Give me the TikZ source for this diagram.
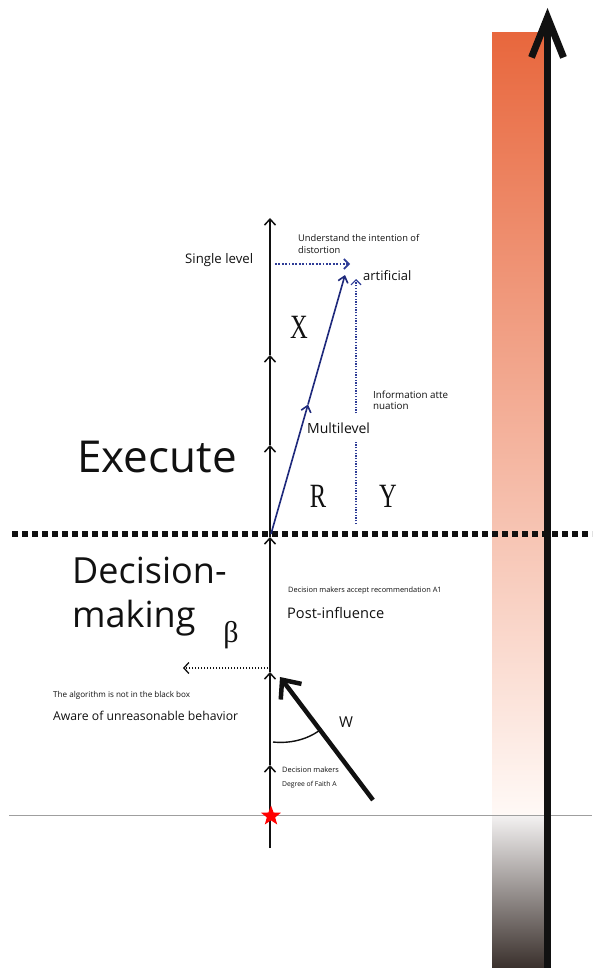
\documentclass[tikz,border=0pt]{standalone}
\usepackage{fontspec}
\setmainfont{Open Sans}
\newfontfamily\serifx{Liberation Serif}
\usetikzlibrary{arrows.meta,shapes.geometric,calc}
\definecolor{navy}{HTML}{1F2A7C}
\definecolor{dotblue}{HTML}{2E3C96}
\definecolor{barTop}{HTML}{E8673D}
\definecolor{barMid}{HTML}{FFF9F6}
\definecolor{barLow}{HTML}{F4F2F2}
\definecolor{barBot}{HTML}{3A302C}
\definecolor{ink}{HTML}{111111}
\tikzset{
  txt/.style={inner sep=0pt, anchor=base west, text=ink},
  fs/.style={font=\fontsize{#1}{#1}\selectfont},
  axisarrow/.style={-{Straight Barb[length=6pt,width=11pt]}, line width=1.5pt, ink},
  bluearrow/.style={-{Straight Barb[length=6pt,width=10pt]}, line width=1.6pt, navy},
  bluedots/.style={-{Straight Barb[length=5pt,width=10pt]}, line width=1.6pt, dotblue, dash pattern=on 1.8pt off 1.6pt},
  letter/.style={inner sep=0pt, text=ink, font=\serifx\fontsize{34}{34}\selectfont}
}
\begin{document}
\begin{tikzpicture}[x=1pt,y=-1pt]
\useasboundingbox (0,0) rectangle (592,968);
\fill[white] (0,0) rectangle (592,968);

% gradient bar
\shade[top color=barTop, bottom color=barMid] (492,33) rectangle (545,815);
\shade[top color=barLow, bottom color=barBot] (492,815) rectangle (545,968);

% horizontal reference line
\coordinate (h0) at (9,815);
\coordinate (h1) at (592,815);
\draw[gray!75, line width=1pt] (h0) -- (h1);

% thick dotted separator
\coordinate (d0) at (12,534);
\coordinate (d1) at (592,534);
\draw[ink, line width=6pt, dash pattern=on 6pt off 4pt] (d0) -- (d1);

% big right arrow
\coordinate (g0) at (547.5,968);
\coordinate (g1) at (547.5,8);
\draw[ink, line width=7pt, -{Straight Barb[length=40pt,width=32pt]}] (g0) -- (g1);

% main axis
\coordinate (a0) at (270,848);
\coordinate (a1) at (270,765);
\coordinate (a2) at (270,672);
\coordinate (a3) at (270,537);
\coordinate (a4) at (270,445);
\coordinate (a5) at (270,355);
\coordinate (a6) at (270,218);
\draw[axisarrow] (a0) -- (a1);
\draw[axisarrow] (a1) -- (a2);
\draw[axisarrow] (a2) -- (a3);
\draw[axisarrow] (a3) -- (a4);
\draw[axisarrow] (a4) -- (a5);
\draw[axisarrow] (a5) -- (a6);

% star
\node[star, star points=5, star point ratio=2.4, fill=red, inner sep=0pt, minimum size=21pt] (origin) at (271,816) {};

% blue arrow (Multilevel)
\coordinate (b0) at (271,534);
\coordinate (b1) at (345,275);
\coordinate (bm) at ($(b0)!0.5!(b1)$);
\draw[bluearrow] (b0) -- (bm);
\draw[bluearrow] (bm) -- (b1);

% blue dotted vertical (information attenuation)
\coordinate (y0) at (356,524);
\coordinate (y1) at (356,279);
\draw[bluedots, line width=1.2pt, dash pattern=on 1.3pt off 1.4pt] (y0) -- (y1);

% blue dotted horizontal (single level)
\coordinate (s0) at (275,264);
\coordinate (s1) at (350,264);
\draw[bluedots] (s0) -- (s1);

% black dotted leftward arrow
\coordinate (l0) at (268,668);
\coordinate (l1) at (183,668);
\draw[ink, line width=1.3pt, dash pattern=on 1.5pt off 1.5pt, -{Straight Barb[length=5pt,width=11pt]}] (l0) -- (l1);

% thick W arrow
\coordinate (w0) at (373,800);
\coordinate (w1) at (280,677);
\draw[ink, line width=4.5pt, -{Straight Barb[length=15pt,width=26pt]}] (w0) -- (w1);

% angle arc
\coordinate (c0) at (273,742);
\coordinate (c1) at (320,730);
\draw[ink, line width=1.4pt] (c0) .. controls (289.4,743.7) and (306.8,739.9) .. (c1);

% texts
\node[txt, fs=44] (execute) at (77,472) {Execute};
\node[txt, fs=36] (dec1) at (72,583) {Decision-};
\node[txt, fs=36] (dec2) at (72,627) {making};
\node[letter, font=\serifx\fontsize{30}{30}\selectfont] (beta) at (231,635) {β};

\node[txt, fs=13.2] (single) at (185,263) {Single level};
\node[txt, fs=9.3] (und1) at (298,242) {Understand the intention of};
\node[txt, fs=9.3] (und2) at (298,253) {distortion};
\node[txt, fs=13] (artif) at (363,280) {artificial};
\node[letter] (X) at (299,327) {\scalebox{0.72}[1]{X}};
\node[txt, fs=9.8] (info1) at (373,398) {Information atte};
\node[txt, fs=9.8] (info2) at (373,409) {nuation};
\node[txt, fs=14, fill=white, inner xsep=1pt, inner ysep=7pt] (multi) at (306,433) {Multilevel};
\node[letter] (R) at (318,496) {\scalebox{0.72}[1]{R}};
\node[letter] (Y) at (388,496) {\scalebox{0.72}[1]{Y}};

\node[txt, fs=7.4] (accept) at (288,592) {Decision makers accept recommendation A1};
\node[txt, fs=14.6] (post) at (287,618) {Post-influence};
\node[txt, fs=8.1] (algo) at (53,697) {The algorithm is not in the black box};
\node[txt, fs=12.2] (aware) at (53,720) {Aware of unreasonable behavior};
\node[txt, fs=15] (W) at (339,727) {W};
\node[txt, fs=7.4] (dm1) at (282,772) {Decision makers};
\node[txt, fs=6.8] (dm2) at (282,786) {Degree of Faith A};
\end{tikzpicture}
\end{document}
